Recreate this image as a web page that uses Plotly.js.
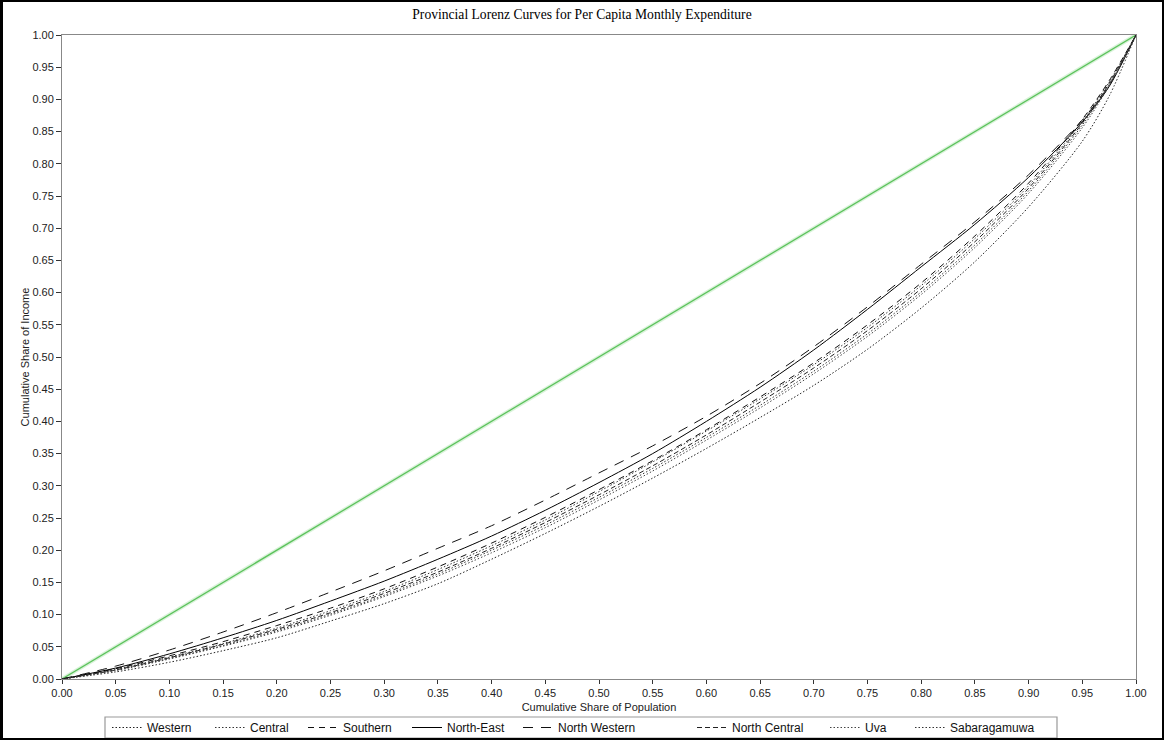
<!DOCTYPE html>
<html>
<head>
<meta charset="utf-8">
<script src="https://cdn.plot.ly/plotly-3.0.1.min.js"></script>
<style>
  html, body { margin: 0; padding: 0; background: #fff; }
  #wrap { position: relative; width: 1164px; height: 740px; }
  #chart { width: 1164px; height: 740px; }
  #frame { position: absolute; left: 0; top: 0; width: 1164px; height: 740px; box-sizing: border-box;
           border-left: 3px solid #000; border-top: 2px solid #000; border-right: 2px solid #000; border-bottom: 2px solid #000;
           pointer-events: none; }
</style>
</head>
<body>
<div id="wrap">
  <div id="chart"></div>
  <div id="frame"></div>
</div>
<script>
// Cumulative share of population
const population = [0, 0.05, 0.10, 0.15, 0.20, 0.25, 0.30, 0.35, 0.40, 0.45, 0.50, 0.55, 0.60, 0.65, 0.70, 0.75, 0.80, 0.85, 0.90, 0.95, 0.975, 1.00];

// Cumulative share of income, by province
const western      = [0, 0.011, 0.026, 0.044, 0.064, 0.090, 0.117, 0.148, 0.186, 0.226, 0.268, 0.312, 0.358, 0.406, 0.456, 0.512, 0.576, 0.648, 0.733, 0.835, 0.905, 1];
const central      = [0, 0.015, 0.034, 0.055, 0.079, 0.106, 0.136, 0.170, 0.207, 0.247, 0.291, 0.337, 0.385, 0.435, 0.488, 0.546, 0.611, 0.684, 0.766, 0.866, 0.927, 1];
const southern     = [0, 0.016, 0.036, 0.058, 0.083, 0.110, 0.140, 0.174, 0.211, 0.251, 0.294, 0.339, 0.387, 0.438, 0.491, 0.550, 0.615, 0.688, 0.770, 0.869, 0.929, 1];
const northEast    = [0, 0.017, 0.039, 0.064, 0.091, 0.121, 0.152, 0.186, 0.222, 0.262, 0.305, 0.350, 0.400, 0.453, 0.511, 0.574, 0.640, 0.706, 0.779, 0.865, 0.920, 1];
const northWestern = [0, 0.020, 0.045, 0.073, 0.103, 0.135, 0.168, 0.203, 0.238, 0.278, 0.320, 0.362, 0.408, 0.459, 0.516, 0.578, 0.644, 0.710, 0.783, 0.868, 0.922, 1];
const northCentral = [0, 0.014, 0.033, 0.054, 0.077, 0.103, 0.133, 0.166, 0.203, 0.243, 0.286, 0.331, 0.379, 0.430, 0.483, 0.541, 0.606, 0.679, 0.762, 0.863, 0.925, 1];
const uva          = [0, 0.013, 0.031, 0.051, 0.073, 0.099, 0.128, 0.160, 0.196, 0.235, 0.278, 0.323, 0.371, 0.421, 0.474, 0.532, 0.597, 0.670, 0.754, 0.856, 0.921, 1];
const sabaragamuwa = [0, 0.014, 0.032, 0.052, 0.075, 0.101, 0.130, 0.163, 0.200, 0.239, 0.282, 0.327, 0.375, 0.425, 0.478, 0.536, 0.601, 0.674, 0.758, 0.860, 0.923, 1];

// Line of equality
const equalityX = [0, 1];
const equalityY = [0, 1];

const provinceNames = ["Western", "Central", "Southern", "North-East", "North Western", "North Central", "Uva", "Sabaragamuwa"];
const provinceValues = [western, central, southern, northEast, northWestern, northCentral, uva, sabaragamuwa];
const provinceDash = ["1.5px,2px", "1.5px,2px", "6px,5px", "solid", "10px,8px", "5px,3px", "1.5px,2px", "1.5px,2px"];
const provinceColor = ["#222", "#333", "#111", "#000", "#111", "#222", "#444", "#333"];
// legend entry left edges (px) within the page
const legendLeftPx = [107, 210, 303, 407, 518, 692, 825, 910];

const traces = [];
traces.push({
  x: equalityX, y: equalityY, mode: "lines", showlegend: false, hoverinfo: "skip",
  line: { color: "rgba(150,220,150,0.35)", width: 4 }
});
traces.push({
  x: equalityX, y: equalityY, mode: "lines", showlegend: false,
  line: { color: "#5cc25c", width: 1.3 }
});

const legendFont = { family: "Liberation Sans, Arial, sans-serif", size: 12, color: "#111" };
const layout = {
  width: 1164, height: 740,
  paper_bgcolor: "#fff", plot_bgcolor: "#fff",
  margin: { l: 62, r: 28, t: 35, b: 61 },
  title: {
    text: "Provincial Lorenz Curves for Per Capita Monthly Expenditure",
    font: { family: "Liberation Serif, Times New Roman, serif", size: 13.6, color: "#000" },
    x: 0.5, xref: "container", xanchor: "center", y: 0.981, yref: "container", yanchor: "middle"
  },
  xaxis: {
    range: [0, 1], dtick: 0.05, tick0: 0, tickformat: ".2f",
    showgrid: false, zeroline: false,
    showline: true, linecolor: "#888", linewidth: 1, mirror: true,
    ticks: "outside", ticklen: 4, tickcolor: "#333", tickwidth: 1,
    tickfont: { family: "Liberation Sans, Arial, sans-serif", size: 11, color: "#222" },
    title: { text: "Cumulative Share of Population", font: { family: "Liberation Sans, Arial, sans-serif", size: 11, color: "#222" }, standoff: 10 }
  },
  yaxis: {
    range: [0, 1], dtick: 0.05, tick0: 0, tickformat: ".2f",
    showgrid: false, zeroline: false,
    showline: true, linecolor: "#888", linewidth: 1, mirror: true,
    ticks: "outside", ticklen: 5, tickcolor: "#333", tickwidth: 1,
    tickfont: { family: "Liberation Sans, Arial, sans-serif", size: 11, color: "#222" },
    title: { text: "Cumulative Share of Income", font: { family: "Liberation Sans, Arial, sans-serif", size: 11, color: "#222" }, standoff: 0 }
  },
  showlegend: true,
  shapes: [{
    type: "rect", xref: "paper", yref: "paper",
    x0: (105 - 62) / 1074, x1: (1057 - 62) / 1074,
    y0: (679 - 738) / 644, y1: (679 - 717) / 644,
    line: { color: "#999", width: 1.2 }, fillcolor: "rgba(0,0,0,0)"
  }]
};

provinceNames.forEach((name, i) => {
  const key = i === 0 ? "legend" : "legend" + (i + 1);
  traces.push({
    x: population, y: provinceValues[i], mode: "lines", name: name,
    legend: key,
    line: { color: provinceColor[i], width: 1, dash: provinceDash[i], shape: "spline", smoothing: 0.8 }
  });
  layout[key] = {
    orientation: "h", x: legendLeftPx[i] / 1164, xref: "container", xanchor: "left",
    y: (740 - 727.5) / 740, yref: "container", yanchor: "middle",
    borderwidth: 0, bgcolor: "rgba(0,0,0,0)",
    font: legendFont, itemwidth: 30
  };
});

Plotly.newPlot("chart", traces, layout, { displayModeBar: false, staticPlot: true });
</script>
</body>
</html>
